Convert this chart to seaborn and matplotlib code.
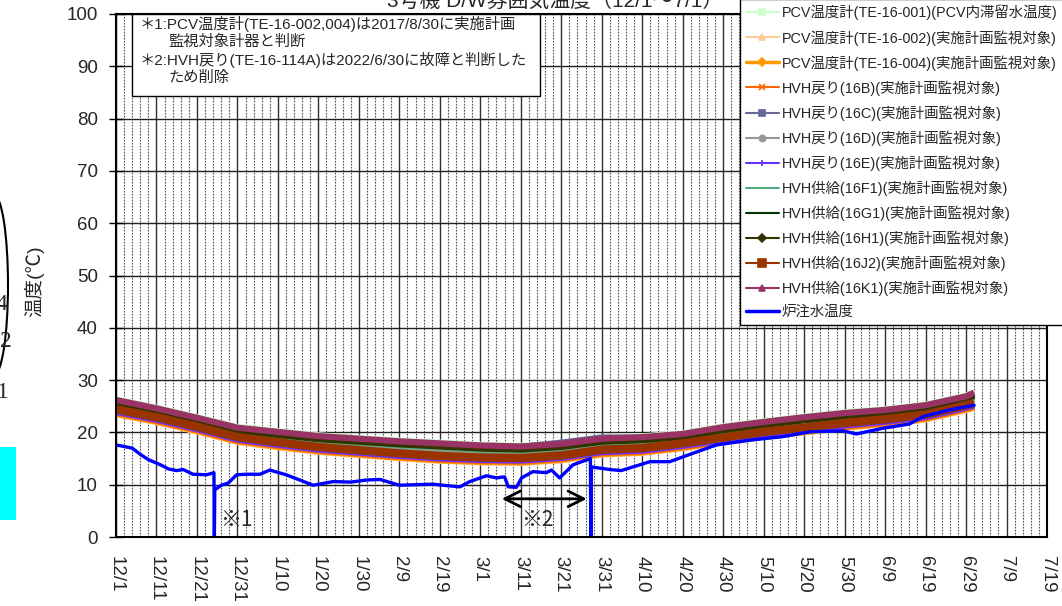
import numpy as np
import pandas as pd
import seaborn as sns
import matplotlib
matplotlib.use("Agg")
import matplotlib.pyplot as plt
from matplotlib.lines import Line2D
from matplotlib.patches import Rectangle, Arc

# ---------------------------------------------------------------
# データ (12/1 からの経過日数)
# ---------------------------------------------------------------
tick_days = list(range(0, 231, 10))
tick_labels = ["12/1", "12/11", "12/21", "12/31", "1/10", "1/20", "1/30", "2/9",
               "2/19", "3/1", "3/11", "3/21", "3/31", "4/10", "4/20", "4/30",
               "5/10", "5/20", "5/30", "6/9", "6/19", "6/29", "7/9", "7/19"]

pcv_days = [0, 10, 20, 30, 40, 50, 60, 70, 80, 90, 100, 110, 120, 130, 140,
            150, 160, 170, 180, 190, 200, 210, 212]

te_001 = [26.4, 24.8, 23.0, 21.1, 20.3, 19.5, 19.0, 18.5, 18.1, 17.7, 17.5, 18.0,
          19.0, 19.3, 19.9, 21.2, 22.2, 23.1, 23.9, 24.5, 25.4, 27.1, 27.8]
te_002 = [23.4, 21.9, 20.1, 18.1, 17.1, 16.2, 15.6, 15.0, 14.5, 14.2, 14.1, 14.6,
          15.7, 16.0, 16.9, 18.0, 19.1, 19.9, 20.8, 21.5, 22.4, 24.2, 24.6]
te_004 = [23.5, 22.0, 20.2, 18.2, 17.2, 16.3, 15.7, 15.1, 14.6, 14.3, 14.2, 14.7,
          15.8, 16.1, 17.0, 18.1, 19.2, 20.0, 20.9, 21.6, 22.5, 24.3, 24.7]
hvh_16b = [23.6, 22.1, 20.3, 18.3, 17.3, 16.4, 15.8, 15.2, 14.7, 14.4, 14.3, 14.8,
           15.9, 16.2, 17.1, 18.2, 19.3, 20.1, 21.0, 21.7, 22.6, 24.4, 24.8]
hvh_16c = [25.9, 24.3, 22.5, 20.6, 19.8, 19.0, 18.5, 18.0, 17.6, 17.3, 17.3, 18.1,
           19.1, 19.0, 19.4, 20.7, 21.7, 22.6, 23.4, 24.0, 24.9, 26.6, 27.3]
hvh_16d = [24.9, 23.3, 21.5, 19.6, 18.8, 18.0, 17.5, 17.0, 16.6, 16.2, 16.0, 16.5,
           17.5, 17.8, 18.4, 19.7, 20.7, 21.6, 22.4, 23.0, 23.9, 25.6, 26.3]
hvh_16e = [23.8, 22.3, 20.5, 18.5, 17.5, 16.6, 16.0, 15.4, 14.9, 14.6, 14.5, 15.0,
           16.1, 16.4, 17.3, 18.4, 19.5, 20.3, 21.2, 21.9, 22.8, 24.6, 25.0]
hvh_16f1 = [25.3, 23.7, 21.9, 20.0, 19.2, 18.4, 17.9, 17.4, 17.0, 16.6, 16.4, 16.9,
            17.9, 18.2, 18.8, 20.1, 21.1, 22.0, 22.8, 23.4, 24.3, 26.0, 26.7]
hvh_16g1 = [25.6, 24.0, 22.2, 20.3, 19.5, 18.7, 18.2, 17.7, 17.3, 16.9, 16.7, 17.2,
            18.2, 18.5, 19.1, 20.4, 21.4, 22.3, 23.1, 23.7, 24.6, 26.3, 27.0]
hvh_16h1 = [25.5, 23.9, 22.1, 20.2, 19.4, 18.6, 18.1, 17.6, 17.2, 16.8, 16.6, 17.1,
            18.1, 18.4, 19.0, 20.3, 21.3, 22.2, 23.0, 23.6, 24.5, 26.2, 26.9]
hvh_16j2 = [24.4, 22.9, 21.1, 19.1, 18.1, 17.2, 16.6, 16.0, 15.5, 15.2, 15.1, 15.6,
            16.7, 17.0, 17.9, 19.0, 20.1, 20.9, 21.8, 22.5, 23.4, 25.2, 25.6]
hvh_16k1 = [26.2, 24.6, 22.8, 20.9, 20.1, 19.3, 18.8, 18.3, 17.9, 17.5, 17.3, 17.8,
            18.8, 19.1, 19.7, 21.0, 22.0, 22.9, 23.7, 24.3, 25.2, 26.9, 27.6]

# 炉注水温度
water_days = [0, 2, 4, 6, 8, 11, 13, 15, 16.6, 19, 22.4, 24.2, 24.3, 24.4, 26, 27.7,
              29.8, 32.3, 35.6, 38, 42, 45.4, 48.7, 53.7, 58, 62, 65.2, 70, 74, 78.3,
              82, 85, 87.4, 91.5, 94, 96, 96.9, 98.9, 100.2, 103, 106.3, 107.6, 109.6,
              112.9, 117.2, 117.3, 117.4, 122, 124.8, 131.9, 136.8, 142.5, 148.3,
              156.5, 164.8, 171.4, 179.6, 182.9, 189.5, 196, 199.3, 205.9, 212]
water_temp = [17.6, 17.3, 17.0, 15.8, 14.8, 13.8, 13.0, 12.7, 12.9, 12.0, 11.9, 12.3,
              0.0, 9.0, 9.9, 10.3, 11.9, 12.0, 12.0, 12.8, 11.9, 10.9, 9.9, 10.6, 10.5,
              10.9, 11.0, 9.9, 10.0, 10.1, 9.8, 9.6, 10.6, 11.7, 11.3, 11.5, 9.6, 9.5,
              11.3, 12.5, 12.3, 12.8, 11.3, 13.8, 15.0, 0.0, 13.4, 12.9, 12.7, 14.4,
              14.4, 16.0, 17.6, 18.5, 19.2, 20.1, 20.3, 19.7, 20.8, 21.6, 23.0, 24.3, 25.2]

series_names = [
    "PCV温度計(TE-16-001)(PCV内滞留水温度)",
    "PCV温度計(TE-16-002)(実施計画監視対象)",
    "PCV温度計(TE-16-004)(実施計画監視対象)",
    "HVH戻り(16B)(実施計画監視対象)",
    "HVH戻り(16C)(実施計画監視対象)",
    "HVH戻り(16D)(実施計画監視対象)",
    "HVH戻り(16E)(実施計画監視対象)",
    "HVH供給(16F1)(実施計画監視対象)",
    "HVH供給(16G1)(実施計画監視対象)",
    "HVH供給(16H1)(実施計画監視対象)",
    "HVH供給(16J2)(実施計画監視対象)",
    "HVH供給(16K1)(実施計画監視対象)",
]
series_values = [te_001, te_002, te_004, hvh_16b, hvh_16c, hvh_16d, hvh_16e,
                 hvh_16f1, hvh_16g1, hvh_16h1, hvh_16j2, hvh_16k1]
colors = ["#CCFFCC", "#FFCC99", "#FF9900", "#FF6600", "#666699", "#969696",
          "#6633FF", "#55AA7F", "#003300", "#333300", "#993300", "#993366"]
markers = ["s", "^", "D", "x", "s", "o", "+", "_", "_", "D", "s", "^"]
widths = [4.0, 4.0, 4.0, 3.5, 4.0, 3.5, 3.5, 3.5, 3.5, 3.5, 6.0, 4.5]

# ---------------------------------------------------------------
# 描画
# ---------------------------------------------------------------
sns.set_theme(style="white")
plt.rcParams["font.family"] = ["Liberation Sans", "Noto Sans CJK JP", "DejaVu Sans"]

fig = plt.figure(figsize=(10.62, 6.06), dpi=100)
ax = fig.add_axes([116 / 1062, 1 - 537 / 606, 931 / 1062, 523 / 606])

for name, vals, c, lw in zip(series_names, series_values, colors, widths):
    sns.lineplot(x=pcv_days, y=vals, color=c, lw=lw, ax=ax, legend=False,
                 solid_capstyle="butt")
sns.lineplot(x=water_days, y=water_temp, color="#0000FF", lw=2.4, ax=ax,
             legend=False, sort=False)

ax.set_xlim(0, 230)
ax.set_ylim(0, 100)
ax.set_xticks(tick_days)
ax.set_xticklabels(tick_labels, rotation=270, fontsize=13.5)
ax.set_xticks(np.arange(0, 231, 2), minor=True)
ax.set_yticks(range(0, 101, 10))
ax.tick_params(axis="y", labelsize=13.5, direction="inout", length=10, width=1,
               color="black", left=True, pad=8)
ax.tick_params(axis="x", which="major", direction="in", length=0, pad=14)
ax.tick_params(axis="x", which="minor", length=0)

ax.grid(False)
ax.grid(True, which="major", axis="x", color="#303030", lw=1.0)
ax.grid(True, which="minor", axis="x", color="#505050", lw=0.8,
        linestyle=(0, (1.5, 1.2)))
ax.grid(True, which="major", axis="y", color="#202020", lw=1.0)
ax.set_axisbelow(True)
for sp in ax.spines.values():
    sp.set_color("black")
    sp.set_linewidth(1.5)

ax.set_xlabel("")
ax.set_ylabel("温度(℃)", fontsize=14)
ax.yaxis.set_label_coords(-0.077, 0.49)

# ※ 注記
ax.annotate("", xy=(116.3, 7.3), xytext=(95.3, 7.3),
            arrowprops=dict(arrowstyle="<->", lw=2, color="black",
                            mutation_scale=28, shrinkA=0, shrinkB=0))
ax.text(25.7, 3.3, "※1", fontsize=15, va="center", ha="left",
        family=["Noto Sans CJK JP", "DejaVu Sans"])
ax.text(100.0, 3.3, "※2", fontsize=15, va="center", ha="left",
        family=["Noto Sans CJK JP", "DejaVu Sans"])

# 凡例
handles = []
for name, c, m in zip(series_names, colors, markers):
    lw = 2.5 if name.startswith("PCV温度計(TE-16-004)") else 1.5
    ms = 6 if m == "s" and c == "#993300" else 4.5
    handles.append(Line2D([], [], color=c, lw=lw, marker=m, markersize=ms,
                          markeredgewidth=1.2))
handles.append(Line2D([], [], color="#0000FF", lw=2.5))
leg = fig.legend(handles, series_names + ["炉注水温度"], loc="lower left",
                 bbox_to_anchor=(740 / 1062, 1 - 325 / 606),
                 bbox_transform=fig.transFigure, fontsize=10.4, frameon=True,
                 fancybox=False, framealpha=1, edgecolor="black",
                 handlelength=2.3, handletextpad=0.2, labelspacing=0.66,
                 borderpad=0.4, borderaxespad=0)
leg.get_frame().set_linewidth(1.0)

# 注記ボックス
fig.add_artist(Rectangle((132 / 1062, 1 - 96 / 606), 408 / 1062, 82 / 606,
                         transform=fig.transFigure, fc="white", ec="black",
                         lw=1.0, zorder=5))
note_lines = [(140, 24, "＊1:PCV温度計(TE-16-002,004)は2017/8/30に実施計画"),
              (168, 42, "監視対象計器と判断"),
              (140, 60, "＊2:HVH戻り(TE-16-114A)は2022/6/30に故障と判断した"),
              (168, 78, "ため削除")]
for px, py, s in note_lines:
    fig.text(px / 1062, 1 - py / 606, s, fontsize=11, va="center", ha="left",
             zorder=6)

# タイトル (上端で切れている)
fig.text(555 / 1062, 1 - 1 / 606, "3号機 D/W雰囲気温度（12/1～7/1）",
         fontsize=15, ha="center", va="center")

# 左端の切れ残り
fig.add_artist(Rectangle((0, 1 - 520 / 606), 16 / 1062, 73 / 606,
                         transform=fig.transFigure, fc="#00FFFF", ec="none"))
fig.add_artist(Arc((-6 / 1062, 1 - 285 / 606), 28 / 1062, 180 / 606,
                   theta1=-90, theta2=90, transform=fig.transFigure,
                   color="black", lw=1.5))
for px, py, s in [(-5, 305, "4"), (0, 342, "2"), (-3, 392, "1")]:
    fig.text(px / 1062, 1 - py / 606, s, fontsize=17, va="center", ha="left",
             family="Liberation Serif")

fig.savefig("out.png", dpi=100)
